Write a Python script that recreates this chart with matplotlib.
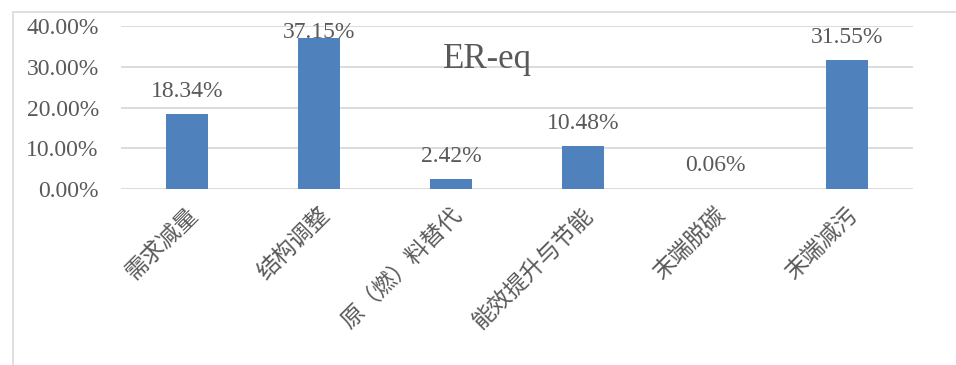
import matplotlib.pyplot as plt
from matplotlib.patches import Rectangle

categories = ["需求减量", "结构调整", "原（燃）料替代", "能效提升与节能", "末端脱碳", "末端减污"]
values = [18.34, 37.15, 2.42, 10.48, 0.06, 31.55]
yticks = [0, 10, 20, 30, 40]

text_color = '#595959'
bar_color = '#4F81BD'
grid_color = '#D9D9D9'
fonts = ['Liberation Serif', 'Noto Sans CJK SC']

fig = plt.figure(figsize=(9.56, 3.65), dpi=100)
ax = fig.add_axes([121/956, 1-189/365, (913-121)/956, (189-26)/365])

# chart area frame (cut off at bottom and right)
fig.patches.append(Rectangle((13/956, -0.1), 1.2, 1.1-12/365, transform=fig.transFigure,
                             fill=False, edgecolor=grid_color, linewidth=1.2))

x = list(range(len(categories)))
ax.bar(x, [v/100 for v in values], width=0.32, color=bar_color, zorder=3)
ax.set_xlim(-0.5, len(categories)-0.5)
ax.set_ylim(0, 0.40)

ax.set_yticks([t/100 for t in yticks])
ax.set_yticklabels([f"{t:.2f}%" for t in yticks], family=fonts, fontsize=17, color=text_color)
ax.yaxis.grid(True, color=grid_color, linewidth=1.3, zorder=0)
ax.tick_params(axis='y', length=0, pad=16)
ax.tick_params(axis='x', length=0, pad=11)

ax.set_xticks(x)
ax.set_xticklabels(categories, family=fonts, fontsize=16.5, color=text_color,
                   fontweight='light', rotation=45, ha='right', rotation_mode='anchor')

for s in ax.spines.values():
    s.set_visible(False)

for xi, v in zip(x, values):
    ly = min(v/100 + 0.056, 0.385)
    ax.text(xi, ly, f"{v:.2f}%", ha='center', va='center', family=fonts,
            fontsize=17, color=text_color, zorder=4)

fig.text(487/956, 1-60/365, "ER-eq", ha='center', va='center', family=fonts,
         fontsize=25, color=text_color)

plt.savefig("out.png", dpi=100)
